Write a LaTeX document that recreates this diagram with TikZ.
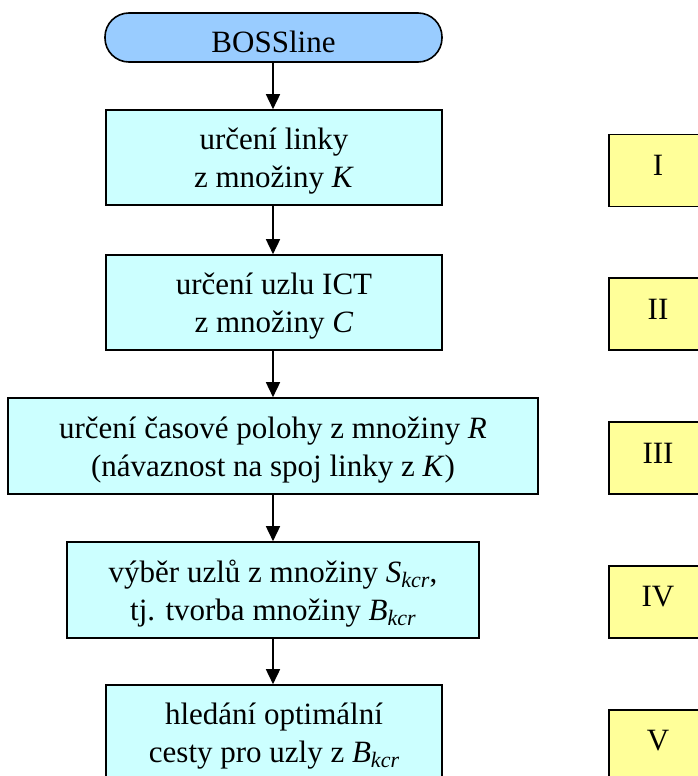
\documentclass[tikz,border=0pt]{standalone}
\usepackage{fontspec}
\setmainfont{Liberation Serif}
\usetikzlibrary{arrows.meta}
\definecolor{termblue}{HTML}{99CCFF}
\definecolor{stepcyan}{HTML}{CCFFFF}
\definecolor{phaseyellow}{HTML}{FFFF99}
% italic subscript index, as in S_kcr
\newcommand{\kidx}[1]{\raisebox{-0.3ex}{\fontsize{22}{22}\selectfont\itshape #1}}
\begin{document}
\begin{tikzpicture}[x=1pt,y=-1pt,
  every node/.style={font=\fontsize{31}{38}\selectfont, align=center, inner sep=0pt},
  terminal/.style={draw=black, line width=1.6pt, fill=termblue, rounded corners=24pt,
    minimum width=337pt, minimum height=49pt},
  stepbox/.style={draw=black, line width=1.6pt, fill=stepcyan, minimum height=95pt},
  phasebox/.style={draw=black, line width=1.6pt, fill=phaseyellow,
    minimum width=98pt, minimum height=72pt},
  steptext/.style={yshift=-4pt},
  phasetext/.style={yshift=5pt},
  flow/.style={draw=black, line width=1.6pt, -{Triangle[length=15pt,width=14pt]}}]
\useasboundingbox (0,0) rectangle (698,776);
\clip (0,0) rectangle (698,776);

% main flow boxes
\node[terminal] (start) at (273.5,37.5) {};
\node[stepbox, minimum width=336pt] (s1) at (274,157.5) {};
\node[stepbox, minimum width=336pt] (s2) at (274,302.5) {};
\node[stepbox, minimum width=530pt, minimum height=96pt] (s3) at (273,446) {};
\node[stepbox, minimum width=412pt, minimum height=96pt] (s4) at (273,590) {};
\node[stepbox, minimum width=336pt] (s5) at (274,732.5) {};

% their texts
\node[steptext] (t0) at (start.center) {BOSSline};
\node[steptext] (t1) at (s1.center) {určení linky\\z množiny \textit{K}};
\node[steptext] (t2) at (s2.center) {určení uzlu ICT\\z množiny \textit{C}};
\node[steptext] (t3) at (s3.center)
  {určení časové polohy z množiny \textit{R}\\(návaznost na spoj linky z \textit{K})};
\node[steptext] (t4) at (s4.center)
  {výběr uzlů z množiny \textit{S}\kidx{kcr},\\tj. tvorba množiny \textit{B}\kidx{kcr}};
\node[steptext] (t5) at (s5.center)
  {hledání optimální\\cesty pro uzly z \textit{B}\kidx{kcr}};

\draw[flow] (start.south -| 273,0) -- (s1.north -| 273,0);
\draw[flow] (s1.south -| 273,0) -- (s2.north -| 273,0);
\draw[flow] (s2.south -| 273,0) -- (s3.north -| 273,0);
\draw[flow] (s3.south -| 273,0) -- (s4.north -| 273,0);
\draw[flow] (s4.south -| 273,0) -- (s5.north -| 273,0);

% phase labels
\node[phasebox] (p1) at (658,170.5) {};
\node[phasebox] (p2) at (658,314) {};
\node[phasebox] (p3) at (658,458) {};
\node[phasebox] (p4) at (658,602) {};
\node[phasebox] (p5) at (658,746) {};
\node[phasetext] (q1) at (p1.center) {I};
\node[phasetext] (q2) at (p2.center) {II};
\node[phasetext] (q3) at (p3.center) {III};
\node[phasetext] (q4) at (p4.center) {IV};
\node[phasetext] (q5) at (p5.center) {V};
\end{tikzpicture}
\end{document}
